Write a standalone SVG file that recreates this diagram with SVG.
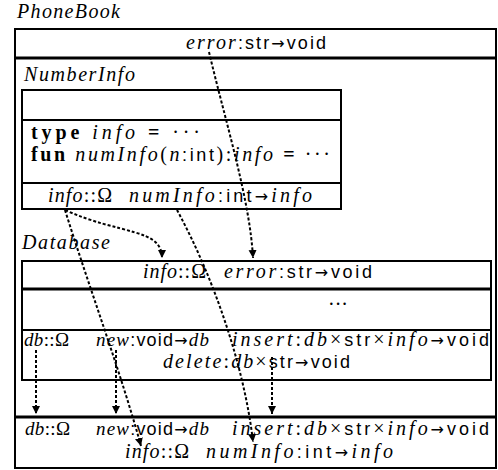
<svg xmlns="http://www.w3.org/2000/svg" width="498" height="470" viewBox="0 0 498 470">
<style>
text{font-family:"Liberation Serif","DejaVu Serif",serif;font-size:20px;fill:#000}
.m{font-style:italic}
.s{font-family:"Liberation Sans","DejaVu Sans",sans-serif;font-size:18px}
.a{font-family:"DejaVu Sans",sans-serif;font-size:16px}
.b{font-weight:bold}
.t{font-size:19px}
.box{fill:#fff;stroke:#000;stroke-width:2}
.sep{stroke:#000;stroke-width:2}
.thick{stroke:#000;stroke-width:3}
.con{fill:none;stroke:#000;stroke-width:2;stroke-dasharray:3 2}
</style>
<defs>
<marker id="ah" markerUnits="userSpaceOnUse" markerWidth="10" markerHeight="10" refX="8" refY="4" orient="auto">
<path d="M0,0 L8,4 L0,8 Z" fill="#000"/>
</marker>
</defs>
<g id="phonebook">
<text x="17" y="18" class="m" textLength="103" lengthAdjust="spacing">PhoneBook</text>
<rect class="box" x="15" y="29" width="481" height="439"/>
<line class="thick" x1="15" y1="58" x2="496" y2="58"/>
<line class="thick" x1="15" y1="417" x2="496" y2="417"/>
<text x="186" y="49" textLength="140" lengthAdjust="spacing"><tspan class="m">error</tspan><tspan class="s">:str</tspan><tspan class="a">→</tspan><tspan class="s">void</tspan></text>
<text x="25" y="435" class="t" textLength="45" lengthAdjust="spacing"><tspan class="m">db</tspan>::Ω</text>
<text x="96" y="435" class="t" textLength="113" lengthAdjust="spacing"><tspan class="m">new</tspan><tspan class="s">:void</tspan><tspan class="a">→</tspan><tspan class="m">db</tspan></text>
<text x="232" y="435" textLength="257" lengthAdjust="spacing"><tspan class="m">insert</tspan>:<tspan class="m">db</tspan>×<tspan class="s">str</tspan>×<tspan class="m">info</tspan><tspan class="a">→</tspan><tspan class="s">void</tspan></text>
<text x="125" y="458" textLength="64" lengthAdjust="spacing"><tspan class="m">info</tspan>::Ω</text>
<text x="206" y="458" textLength="187" lengthAdjust="spacing"><tspan class="m">numInfo</tspan><tspan class="s">:int</tspan><tspan class="a">→</tspan><tspan class="m">info</tspan></text>
</g>
<g id="numberinfo">
<text x="24" y="81" class="m" textLength="111" lengthAdjust="spacing">NumberInfo</text>
<rect class="box" x="22" y="90" width="319" height="119"/>
<line class="sep" x1="22" y1="120" x2="341" y2="120"/>
<line class="sep" x1="22" y1="183" x2="341" y2="183"/>
<text x="31" y="139" textLength="169" lengthAdjust="spacing"><tspan class="b">type</tspan> <tspan class="m">info</tspan> <tspan class="b">=</tspan> ···</text>
<text x="31" y="161" textLength="299" lengthAdjust="spacing"><tspan class="b">fun</tspan> <tspan class="m">numInfo</tspan>(<tspan class="m">n</tspan><tspan class="s">:int</tspan>):<tspan class="m">info</tspan> <tspan class="b">=</tspan> ···</text>
<text x="48" y="202" textLength="64" lengthAdjust="spacing"><tspan class="m">info</tspan>::Ω</text>
<text x="129" y="202" textLength="183" lengthAdjust="spacing"><tspan class="m">numInfo</tspan><tspan class="s">:int</tspan><tspan class="a">→</tspan><tspan class="m">info</tspan></text>
</g>
<g id="database">
<text x="22" y="249" class="m" textLength="88" lengthAdjust="spacing">Database</text>
<rect class="box" x="22" y="261" width="469" height="119"/>
<line class="thick" x1="22" y1="289" x2="491" y2="289"/>
<line class="sep" x1="22" y1="330" x2="491" y2="330"/>
<text x="143" y="278" textLength="63" lengthAdjust="spacing"><tspan class="m">info</tspan>::Ω</text>
<text x="224" y="278" textLength="148" lengthAdjust="spacing"><tspan class="m">error</tspan><tspan class="s">:str</tspan><tspan class="a">→</tspan><tspan class="s">void</tspan></text>
<text x="328" y="311" textLength="20" lengthAdjust="spacing">···</text>
<text x="24" y="346" class="t" textLength="45" lengthAdjust="spacing"><tspan class="m">db</tspan>::Ω</text>
<text x="96" y="346" class="t" textLength="113" lengthAdjust="spacing"><tspan class="m">new</tspan><tspan class="s">:void</tspan><tspan class="a">→</tspan><tspan class="m">db</tspan></text>
<text x="232" y="346" textLength="257" lengthAdjust="spacing"><tspan class="m">insert</tspan>:<tspan class="m">db</tspan>×<tspan class="s">str</tspan>×<tspan class="m">info</tspan><tspan class="a">→</tspan><tspan class="s">void</tspan></text>
<text x="163" y="368" textLength="187" lengthAdjust="spacing"><tspan class="m">delete</tspan>:<tspan class="m">db</tspan>×<tspan class="s">str</tspan><tspan class="a">→</tspan><tspan class="s">void</tspan></text>
</g>
<g id="connectors">
<path class="con" d="M209,52 C225,120 250,200 253,258" marker-end="url(#ah)"/>
<path class="con" d="M65,210 C120,235 162,228 162,258" marker-end="url(#ah)"/>
<path class="con" d="M65,210 C90,290 120,370 141,446" marker-end="url(#ah)"/>
<path class="con" d="M177,210 C215,280 245,370 253,442" marker-end="url(#ah)"/>
<path class="con" d="M36,350 L36,414" marker-end="url(#ah)"/>
<path class="con" d="M116,350 L116,414" marker-end="url(#ah)"/>
<path class="con" d="M272,357 L272,414" marker-end="url(#ah)"/>
</g>
</svg>
